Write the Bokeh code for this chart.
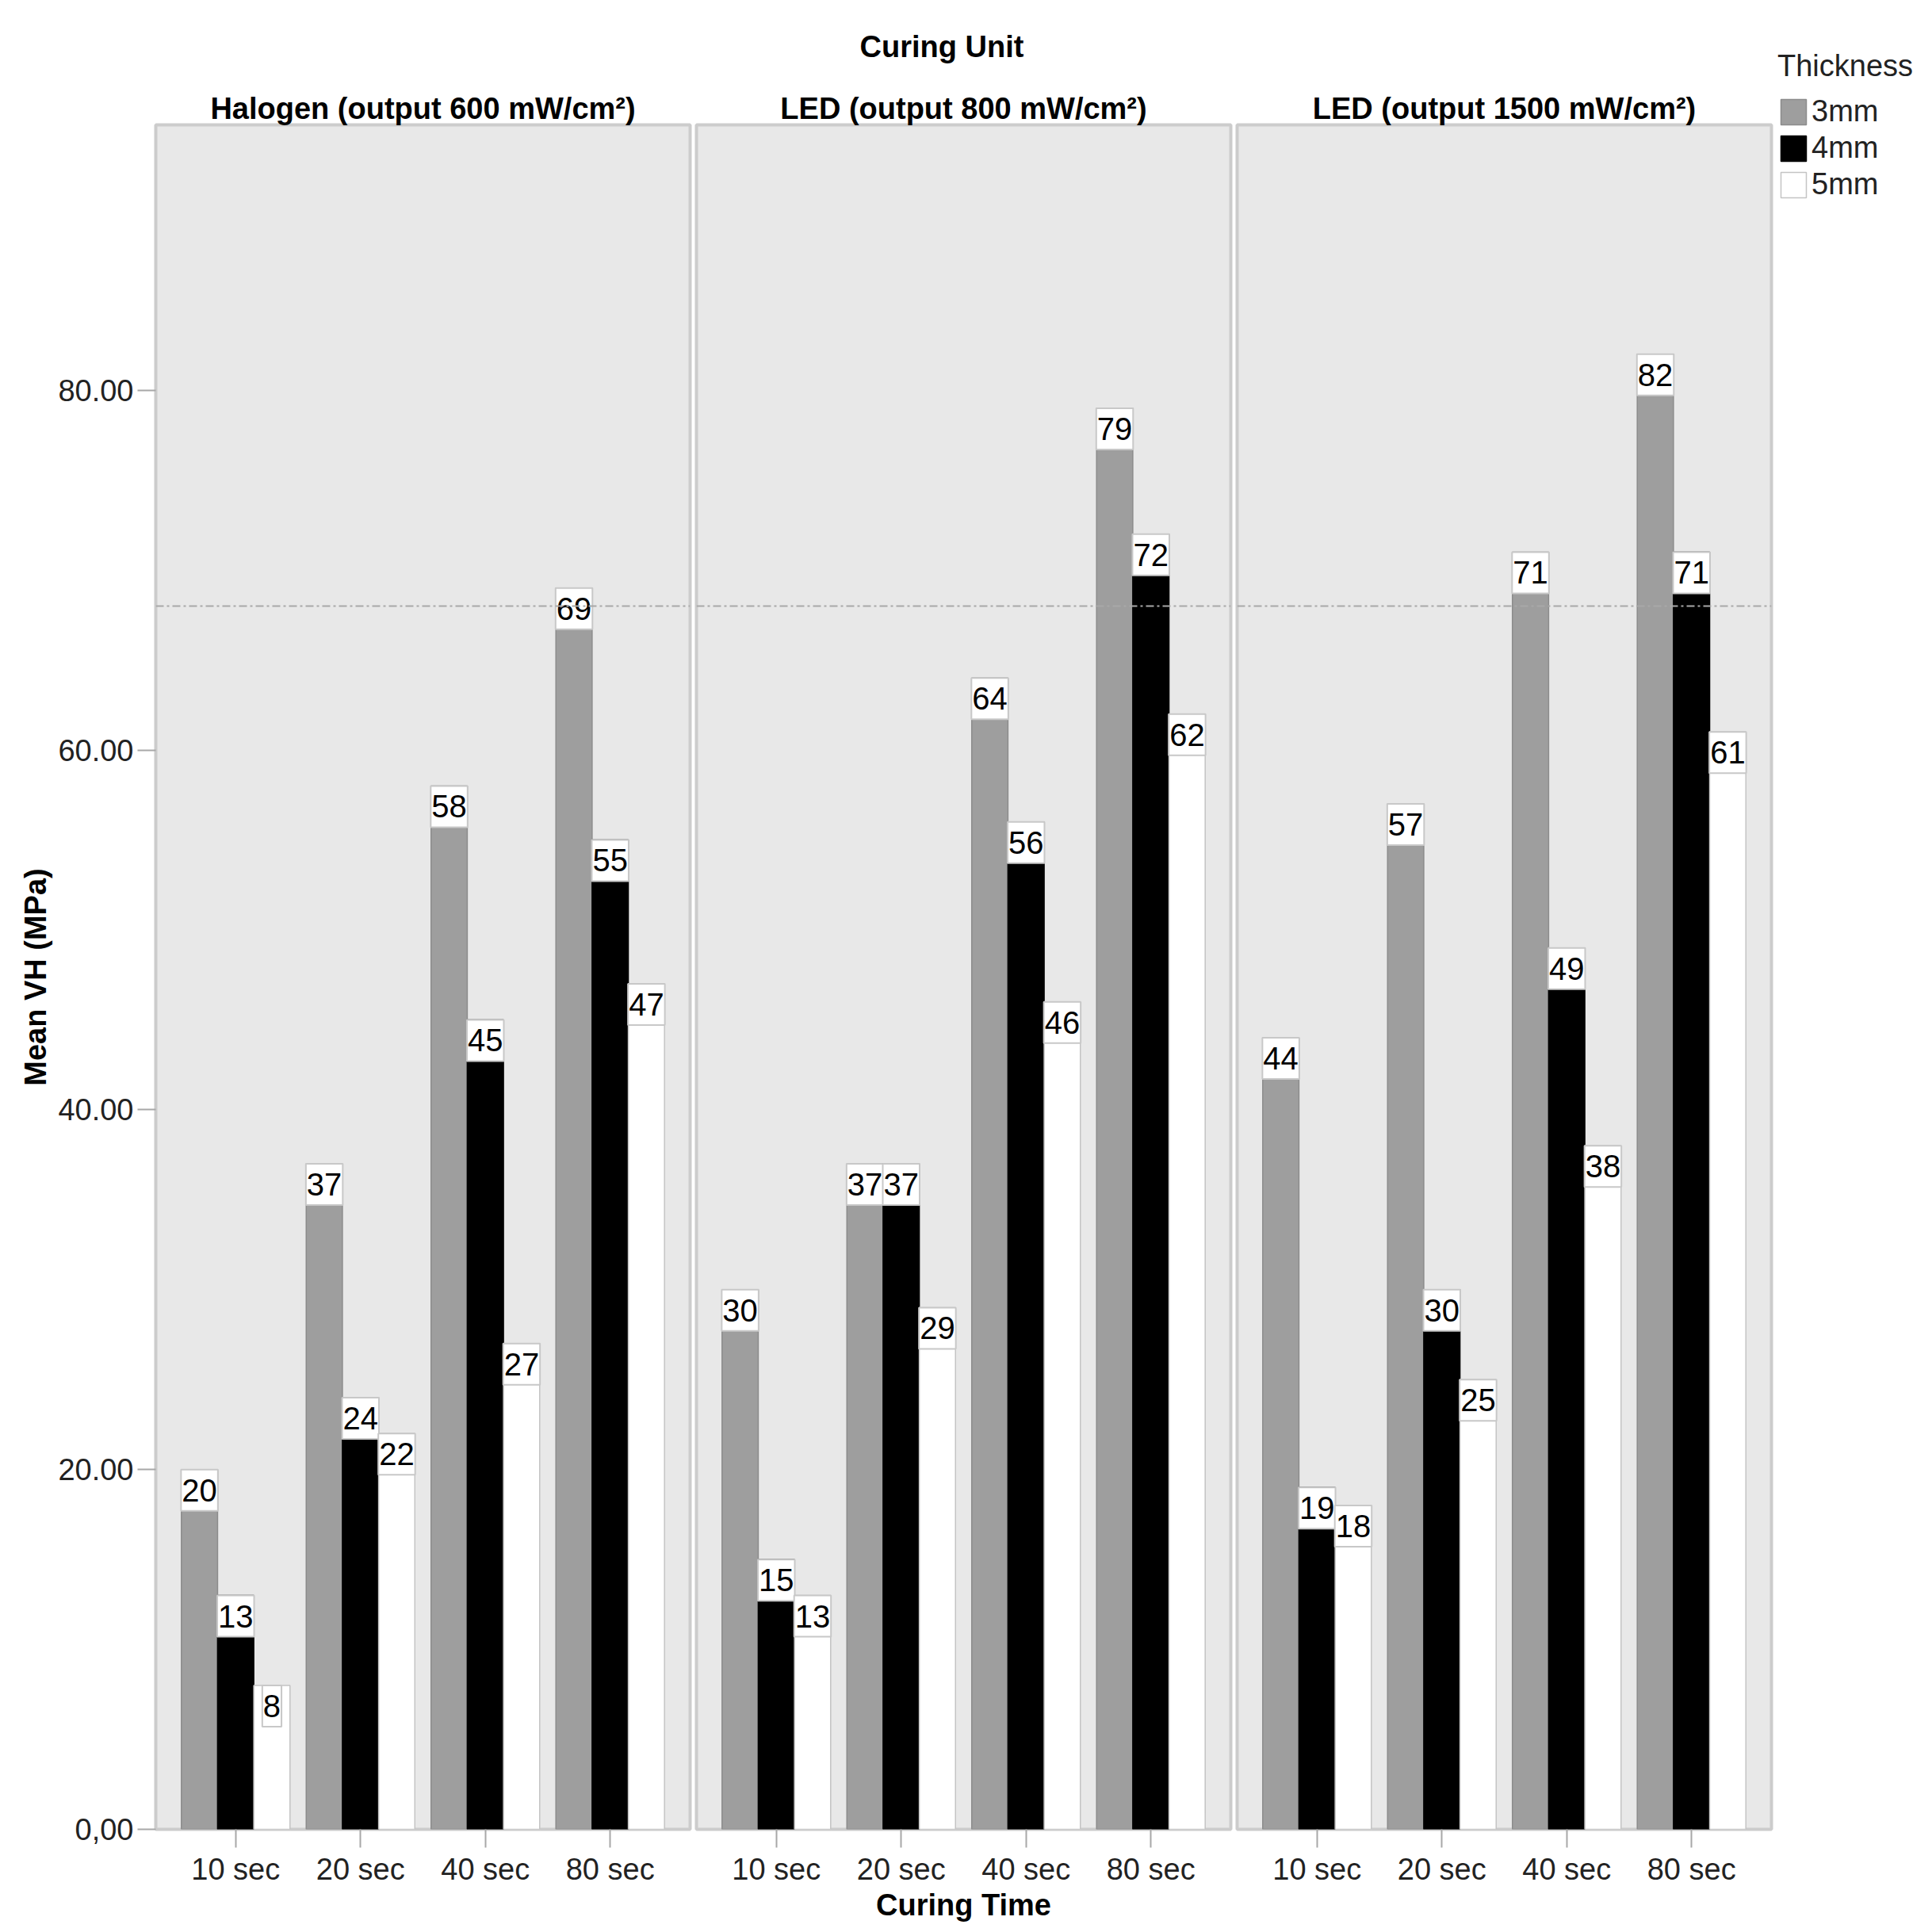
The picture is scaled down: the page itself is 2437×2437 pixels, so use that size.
from bokeh.plotting import figure
from bokeh.models import (ColumnDataSource, FactorRange, Range1d, FixedTicker,
                          Legend, LegendItem, Span, Title)
from bokeh.transform import dodge
from bokeh.layouts import row
from bokeh.embed import file_html
from bokeh.resources import INLINE
from bokeh.core.properties import value

# ---------------- data ----------------
times = ["10 sec", "20 sec", "40 sec", "80 sec"]
units = ["Halogen (output 600 mW/cm²)", "LED (output 800 mW/cm²)", "LED (output 1500 mW/cm²)"]
thicknesses = ["3mm", "4mm", "5mm"]

halogen_3mm = [20, 37, 58, 69]
halogen_4mm = [13, 24, 45, 55]
halogen_5mm = [8, 22, 27, 47]
led800_3mm = [30, 37, 64, 79]
led800_4mm = [15, 37, 56, 72]
led800_5mm = [13, 29, 46, 62]
led1500_3mm = [44, 57, 71, 82]
led1500_4mm = [19, 30, 49, 71]
led1500_5mm = [18, 25, 38, 61]

y_ticks = [0, 20, 40, 60, 80]
y_tick_labels = ["0,00", "20.00", "40.00", "60.00", "80.00"]
reference_level = 68
y_max = 94.75

values = [
    [halogen_3mm, halogen_4mm, halogen_5mm],
    [led800_3mm, led800_4mm, led800_5mm],
    [led1500_3mm, led1500_4mm, led1500_5mm],
]

# ---------------- style ----------------
FONT = "Liberation Sans"
bar_fill = ["#9e9e9e", "#000000", "#ffffff"]
bar_line = ["#8c8c8c", "#000000", "#c4c4c4"]
offsets = [-0.29, 0.0, 0.29]
BAR_W = 0.29
FRAME_W = 674
TOP = 157
BOTTOM = 130
HEIGHT = 2437

yr = Range1d(0, y_max)
figs = []
sources = []
for i, unit in enumerate(units):
    left = 196 if i == 0 else 4
    right = 4
    p = figure(width=left + FRAME_W + right, height=HEIGHT,
               x_range=FactorRange(factors=times, range_padding=0.14, range_padding_units="absolute"),
               y_range=yr, output_backend="svg", toolbar_location=None,
               min_border_left=left, min_border_right=right,
               min_border_top=TOP, min_border_bottom=BOTTOM,
               y_axis_location="left" if i == 0 else None)
    p.background_fill_color = "#e8e8e8"
    p.border_fill_color = "white"
    p.outline_line_color = "#cccccc"
    p.outline_line_width = 4
    p.xgrid.visible = False
    p.ygrid.visible = False

    p.add_layout(Title(text=unit, align="center", text_font=FONT, text_font_size="38px",
                       text_font_style="bold", text_color="black", standoff=0), "above")
    if i == 1:
        p.add_layout(Title(text="Curing Unit", align="left", offset=206,
                           text_font=FONT, text_font_size="38px",
                           text_font_style="bold", text_color="black", standoff=68), "above")

    srcs = []
    for j, th in enumerate(thicknesses):
        vals = values[i][j]
        src = ColumnDataSource(dict(time=times, value=vals, label=[str(v) for v in vals]))
        srcs.append(src)
        p.vbar(x=dodge("time", offsets[j], range=p.x_range), top="value", bottom=0,
               width=BAR_W, source=src, fill_color=bar_fill[j],
               line_color=bar_line[j], line_width=1.5)
        p.text(x=dodge("time", offsets[j], range=p.x_range), y="value", text="label",
               source=src, anchor="top_center", text_align="center", text_baseline="top",
               text_font=value(FONT), text_font_size="40px", text_color="black",
               background_fill_color="white", border_line_color="#c8c8c8",
               border_line_width=2, padding=dict(left=1, right=1, top=12, bottom=12))
    sources.append(srcs)

    p.add_layout(Span(location=reference_level, dimension="width", line_color="#a8a8a8",
                      line_dash="10 4 3 4", line_width=2))

    xa = p.xaxis[0]
    xa.major_label_text_font = FONT
    xa.major_label_text_font_size = "38px"
    xa.major_label_text_color = "#222222"
    xa.major_tick_out = 23
    xa.major_tick_in = 0
    xa.major_tick_line_color = "#a8a8a8"
    xa.major_tick_line_width = 2
    xa.axis_line_color = None
    xa.major_label_standoff = 6
    if i == 1:
        xa.axis_label = "Curing Time"
        xa.axis_label_text_font = FONT
        xa.axis_label_text_font_size = "38px"
        xa.axis_label_text_font_style = "bold"
        xa.axis_label_text_color = "black"
        xa.axis_label_standoff = 0

    if i == 0:
        ya = p.yaxis[0]
        ya.ticker = FixedTicker(ticks=y_ticks)
        ya.major_label_overrides = {t: s for t, s in zip(y_ticks, y_tick_labels)}
        ya.major_label_text_font = FONT
        ya.major_label_text_font_size = "38px"
        ya.major_label_text_color = "#222222"
        ya.major_tick_out = 23
        ya.major_tick_in = 0
        ya.minor_tick_out = 0
        ya.minor_tick_in = 0
        ya.major_tick_line_color = "#a8a8a8"
        ya.major_tick_line_width = 2
        ya.axis_line_color = None
        ya.major_label_standoff = 5
        ya.axis_label = "Mean VH (MPa)"
        ya.axis_label_text_font = FONT
        ya.axis_label_text_font_size = "38px"
        ya.axis_label_text_font_style = "bold"
        ya.axis_label_text_color = "black"
        ya.axis_label_standoff = 4

    figs.append(p)

# legend panel: key renderers reuse the last unit's data, hidden (legend keys only)
used = sum(f.width for f in figs)
pl = figure(width=HEIGHT - used, height=HEIGHT,
            x_range=FactorRange(factors=times), y_range=Range1d(-2, -1),
            output_backend="svg", toolbar_location=None,
            min_border_left=4, min_border_right=0, min_border_top=TOP, min_border_bottom=BOTTOM,
            x_axis_location=None, y_axis_location=None)
pl.outline_line_color = None
pl.background_fill_color = "white"
pl.xgrid.visible = False
pl.ygrid.visible = False
keys = []
for j, th in enumerate(thicknesses):
    r = pl.vbar(x="time", top="value", bottom=0, width=0.5, source=sources[2][j],
                fill_color=bar_fill[j], line_color=bar_line[j], line_width=1.5)
    r.visible = False
    keys.append(LegendItem(label=th, renderers=[r]))
legend = Legend(items=keys, location="top_left", title="Thickness",
                title_text_font=FONT, title_text_font_size="38px", title_text_font_style="normal",
                title_text_color="#222222", title_standoff=14,
                label_text_font=FONT, label_text_font_size="38px", label_text_color="#222222",
                glyph_width=40, glyph_height=40, label_height=34, spacing=3,
                padding=0, margin=0, background_fill_alpha=0, border_line_color=None,
                inactive_fill_alpha=0, label_standoff=3)
pl.add_layout(legend)
pl.margin = (-95, 0, 0, 0)
figs.append(pl)

layout = row(figs, spacing=0)
open("out.html", "w").write(file_html(layout, INLINE, "Mean VH"))
